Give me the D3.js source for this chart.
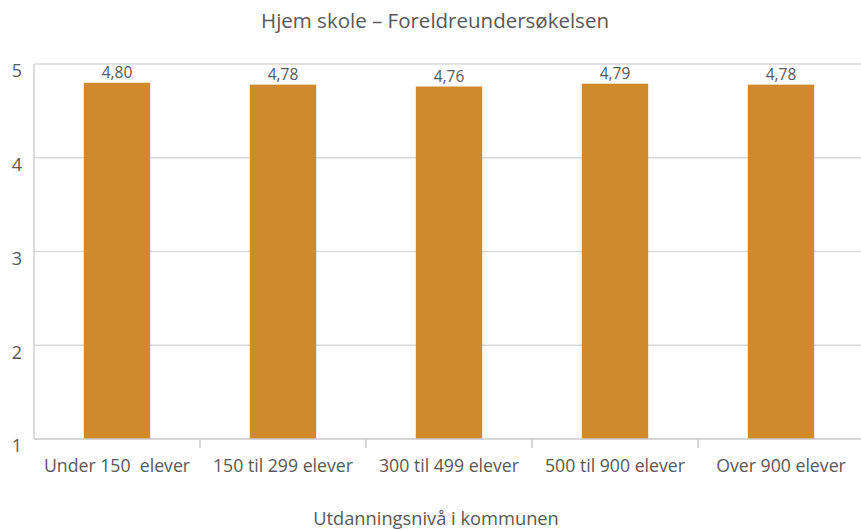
<!DOCTYPE html>
<html>
<head>
<meta charset="utf-8">
<script src="https://cdn.jsdelivr.net/npm/d3@7"></script>
<style>
  body { margin: 0; background: #fff; }
  svg text { font-family: "Open Sans", sans-serif; fill: #595959; }
</style>
</head>
<body>
<div id="chart"></div>
<script>
var categories = ["Under 150  elever", "150 til 299 elever", "300 til 499 elever", "500 til 900 elever", "Over 900 elever"];
var values = [4.80, 4.78, 4.76, 4.79, 4.78];
var yTicks = [1, 2, 3, 4, 5];

var width = 861, height = 530;
var margin = { top: 64, right: -3, bottom: 91, left: 34 };

var svg = d3.select("#chart")
    .append("svg")
    .attr("width", width)
    .attr("height", height);

var x = d3.scaleBand()
    .domain(categories)
    .range([margin.left, width - margin.right])
    .paddingInner(0.6)
    .paddingOuter(0.3);

var xTicks = d3.scaleBand()
    .domain(categories)
    .range([margin.left, width - margin.right]);

var y = d3.scaleLinear()
    .domain([1, 5])
    .range([height - margin.bottom, margin.top]);

var fmt = v => v.toFixed(2).replace(".", ",");

// gridlines
svg.append("g")
    .selectAll("line")
    .data(yTicks.slice(1))
    .join("line")
    .attr("x1", margin.left)
    .attr("x2", width)
    .attr("y1", d => y(d))
    .attr("y2", d => y(d))
    .attr("stroke", "#d9d9d9")
    .attr("stroke-width", 1.5);

// left axis line
svg.append("line")
    .attr("x1", margin.left).attr("x2", margin.left)
    .attr("y1", y(5)).attr("y2", y(1))
    .attr("stroke", "#d0d0d0")
    .attr("stroke-width", 1.5);

// y labels
svg.append("g")
    .selectAll("text")
    .data(yTicks)
    .join("text")
    .attr("x", 22)
    .attr("y", d => y(d) + 7)
    .attr("dy", "0.35em")
    .attr("text-anchor", "end")
    .style("font-size", "18px")
    .text(d => d);

// bars
svg.append("g")
    .selectAll("rect")
    .data(values)
    .join("rect")
    .attr("x", (d, i) => x(categories[i]))
    .attr("y", d => y(d))
    .attr("width", x.bandwidth())
    .attr("height", d => y(1) - y(d))
    .attr("fill", "#d0892b");

// value labels
svg.append("g")
    .selectAll("text")
    .data(values)
    .join("text")
    .attr("x", (d, i) => x(categories[i]) + x.bandwidth() / 2)
    .attr("y", d => y(d) - 5)
    .attr("text-anchor", "middle")
    .style("font-size", "15.5px")
    .text(d => fmt(d));

// x axis baseline and ticks
svg.append("line")
    .attr("x1", margin.left).attr("x2", width)
    .attr("y1", y(1)).attr("y2", y(1))
    .attr("stroke", "#c8c8c8")
    .attr("stroke-width", 1.5);

svg.append("g")
    .selectAll("line")
    .data(categories.slice(1))
    .join("line")
    .attr("x1", d => xTicks(d))
    .attr("x2", d => xTicks(d))
    .attr("y1", y(1))
    .attr("y2", y(1) + 9)
    .attr("stroke", "#c8c8c8")
    .attr("stroke-width", 1.5);

svg.append("g")
    .selectAll("text")
    .data(categories)
    .join("text")
    .attr("x", d => xTicks(d) + xTicks.bandwidth() / 2)
    .attr("y", y(1) + 33)
    .attr("text-anchor", "middle")
    .style("font-size", "17.7px")
    .attr("xml:space", "preserve")
    .text(d => d);

// titles
svg.append("text")
    .attr("x", 435)
    .attr("y", 28)
    .attr("text-anchor", "middle")
    .style("font-size", "20.5px")
    .text("Hjem skole – Foreldreundersøkelsen");

svg.append("text")
    .attr("x", 436)
    .attr("y", 525)
    .attr("text-anchor", "middle")
    .style("font-size", "18.3px")
    .text("Utdanningsnivå i kommunen");
</script>
</body>
</html>
